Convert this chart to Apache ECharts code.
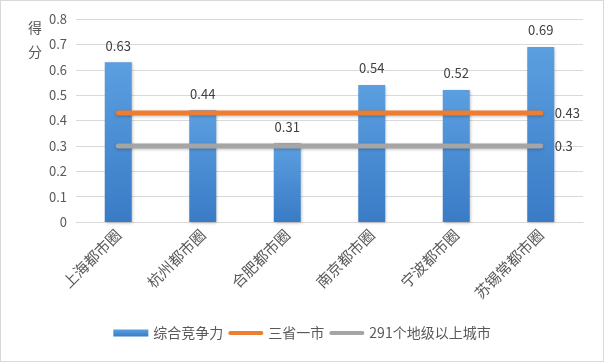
<!DOCTYPE html>
<html><head><meta charset="utf-8">
<script src="https://cdn.jsdelivr.net/npm/echarts@6/dist/echarts.min.js"></script>
<style>html,body{margin:0;padding:0;background:#fff}#c{width:602px;height:360px;border:1px solid #d9d9d9}</style>
</head><body><div id="c"></div>
<script>
var categories = ['上海都市圈','杭州都市圈','合肥都市圈','南京都市圈','宁波都市圈','苏锡常都市圈'];
var competitiveness = [0.63, 0.44, 0.31, 0.54, 0.52, 0.69];
var threeProvinces = [0.43, 0.43, 0.43, 0.43, 0.43, 0.43];
var cities291 = [0.3, 0.3, 0.3, 0.3, 0.3, 0.3];
var yTicks = {min: 0, max: 0.8, interval: 0.1};

var font = '"Microsoft YaHei","Noto Sans CJK SC",sans-serif';
var lineIcon = 'path://M2,0 L34,0 A2,2 0 0 1 34,4 L2,4 A2,2 0 0 1 2,0 Z';
var chart = echarts.init(document.getElementById('c'));
chart.setOption({
  animation: false,
  textStyle: {fontFamily: font},
  title: {text: '得\n分', left: 22, top: 10, textStyle: {fontSize: 14, fontWeight: 'normal', color: '#595959', lineHeight: 24, fontFamily: font}},
  grid: {left: 75, right: 20, top: 18, bottom: 139},
  legend: {
    bottom: 16, left: 'center', itemGap: 5, itemWidth: 35, itemHeight: 7,
    textStyle: {fontSize: 14, color: '#595959', fontFamily: font},
    data: [
      {name: '综合竞争力', icon: 'rect'},
      {name: '三省一市', icon: lineIcon},
      {name: '291个地级以上城市', icon: lineIcon}
    ]
  },
  xAxis: {
    type: 'category', data: categories,
    axisLine: {lineStyle: {color: '#d9d9d9', width: 1}},
    axisTick: {show: false},
    axisLabel: {rotate: 45, fontSize: 15, color: '#595959', margin: 10, interval: 0}
  },
  yAxis: {
    type: 'value', min: yTicks.min, max: yTicks.max, interval: yTicks.interval,
    axisLine: {show: false}, axisTick: {show: false},
    splitLine: {lineStyle: {color: '#d9d9d9'}},
    axisLabel: {fontSize: 13, color: '#595959', margin: 9, formatter: function(v){return v === 0 ? '0' : v.toFixed(1);}}
  },
  series: [
    {
      name: '综合竞争力', type: 'bar', data: competitiveness, barWidth: 27, z: 1,
      itemStyle: {
        color: new echarts.graphic.LinearGradient(0, 0, 0, 1, [
          {offset: 0, color: '#5b9fe0'}, {offset: 1, color: '#3a7bc6'}
        ]),
        shadowColor: 'rgba(0,0,0,0.25)', shadowBlur: 3, shadowOffsetX: 1, shadowOffsetY: 1
      },
      label: {show: true, position: 'top', distance: 10, fontSize: 13, color: '#404040'}
    },
    {
      name: '三省一市', type: 'line', data: threeProvinces, symbol: 'none', z: 3,
      lineStyle: {color: '#ed7d31', width: 5, cap: 'round', shadowColor: 'rgba(0,0,0,0.25)', shadowBlur: 3, shadowOffsetY: 1},
      itemStyle: {color: '#ed7d31'},
      endLabel: {show: true, distance: 14, fontSize: 13, color: '#404040', formatter: '{c}'}
    },
    {
      name: '291个地级以上城市', type: 'line', data: cities291, symbol: 'none', z: 3,
      lineStyle: {color: '#a5a5a5', width: 5, cap: 'round', shadowColor: 'rgba(0,0,0,0.25)', shadowBlur: 3, shadowOffsetY: 1},
      itemStyle: {color: '#a5a5a5'},
      endLabel: {show: true, distance: 14, fontSize: 13, color: '#404040', formatter: '{c}'}
    }
  ]
});
</script></body></html>
